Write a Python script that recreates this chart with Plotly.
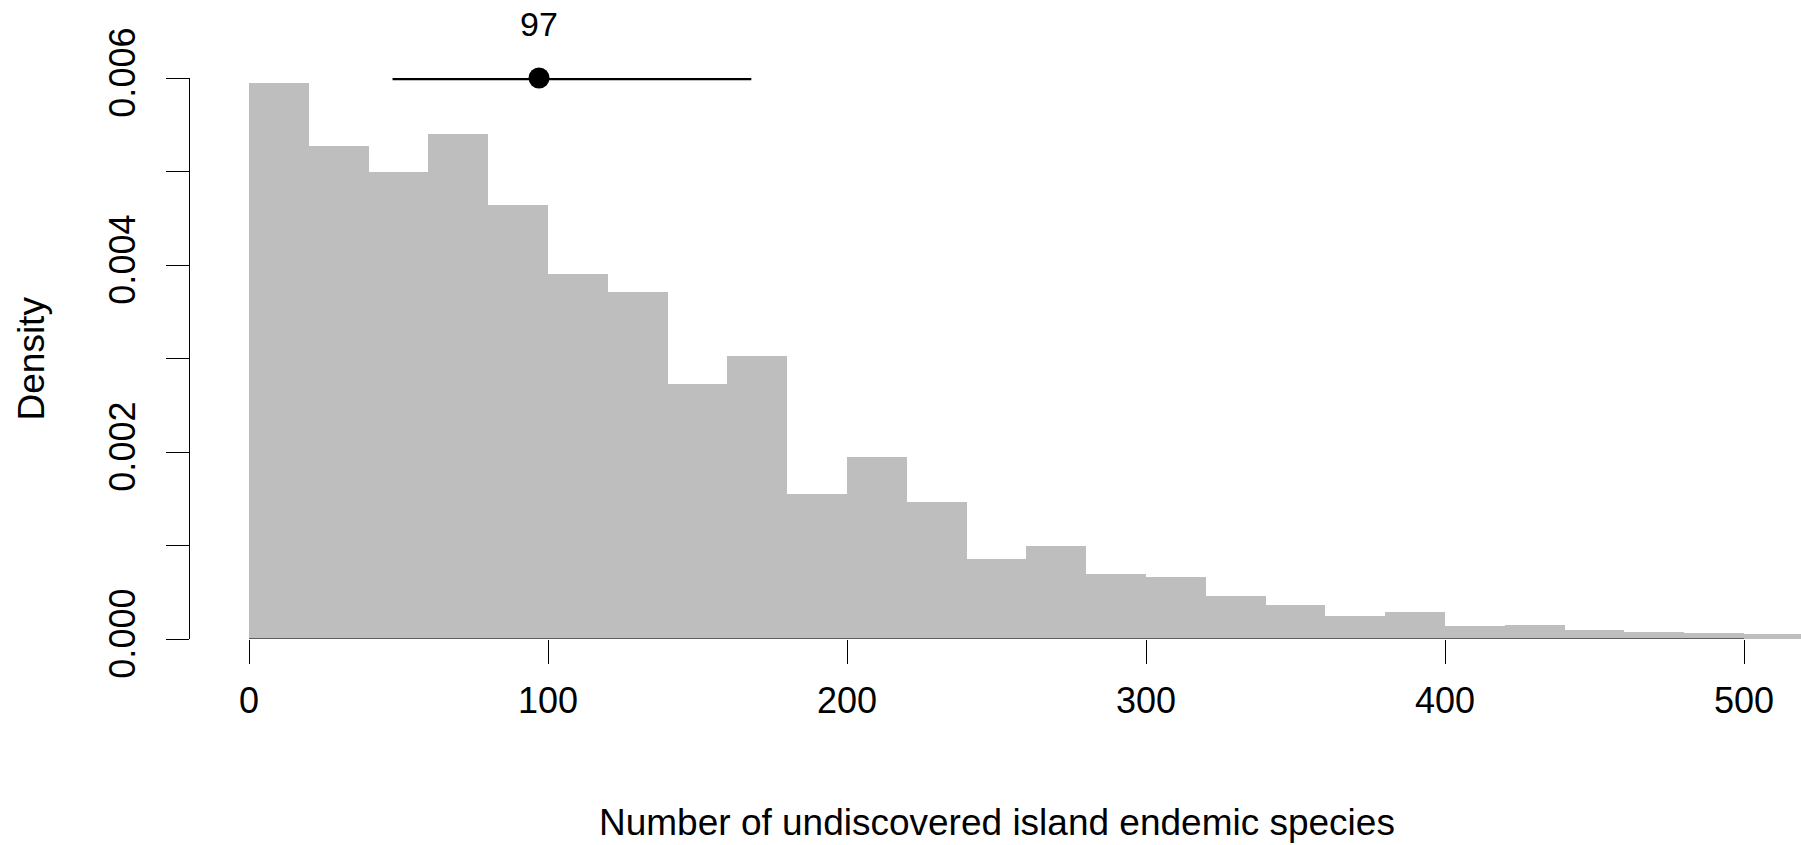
import plotly.graph_objects as go

# ---- data ----
bin_left = [0, 20, 40, 60, 80, 100, 120, 140, 160, 180, 200, 220, 240, 260, 280,
            300, 320, 340, 360, 380, 400, 420, 440, 460, 480, 500]
density = [0.00595, 0.00527, 0.00499, 0.00540, 0.00464, 0.00390, 0.00371, 0.00273,
           0.00303, 0.00155, 0.00195, 0.00146, 0.00086, 0.00100, 0.00070, 0.00066,
           0.00046, 0.00036, 0.00025, 0.00029, 0.00014, 0.00015, 0.00010, 0.00008,
           0.00006, 0.00005]
bin_width = 20

estimate = 97
ci_low, ci_high = 48, 168
ci_y = 0.006

x_ticks = [0, 100, 200, 300, 400, 500]
y_ticks = [0.000, 0.001, 0.002, 0.003, 0.004, 0.005, 0.006]
y_ticktext = ["0.000", "", "0.002", "", "0.004", "", "0.006"]

FONT = "Liberation Sans, Arial, sans-serif"
W, H = 1801, 845
L, R, T, B = 190, 0, 78, 206

fig = go.Figure()
fig.add_trace(go.Bar(
    x=[b + bin_width / 2 for b in bin_left], y=density, width=bin_width,
    marker=dict(color="#bebebe", line=dict(width=0)), showlegend=False,
    hoverinfo="skip"))

fig.add_trace(go.Scatter(
    x=[ci_low, ci_high], y=[ci_y, ci_y], mode="lines",
    line=dict(color="black", width=4.5), cliponaxis=False, showlegend=False))
fig.add_trace(go.Scatter(
    x=[estimate], y=[ci_y], mode="markers",
    marker=dict(color="black", size=21), cliponaxis=False, showlegend=False))

fig.add_annotation(x=estimate, y=ci_y, xref="x", yref="y", text=str(estimate),
                   showarrow=False, yanchor="middle", yshift=54,
                   font=dict(family=FONT, size=34, color="black"))

# x axis line spanning only the tick range (as in R)
fig.add_shape(type="line", xref="x", yref="y", x0=x_ticks[0], x1=x_ticks[-1],
              y0=0, y1=0, line=dict(color="black", width=1.2))

fig.add_annotation(xref="paper", yref="paper", x=(31 - L) / (W - L - R), y=0.5,
                   text="Density", textangle=-90, showarrow=False,
                   xanchor="center", yanchor="middle",
                   font=dict(family=FONT, size=37, color="black"))
fig.add_annotation(xref="paper", yref="paper", x=(996.5 - L) / (W - L - R),
                   y=-(822 - 639) / (H - T - B),
                   text="Number of undiscovered island endemic species",
                   showarrow=False, xanchor="center", yanchor="middle",
                   font=dict(family=FONT, size=37, color="black"))

x0_px = 249
px_per_unit = (1744 - 249) / 500
fig.update_layout(
    width=W, height=H, margin=dict(l=L, r=R, t=T, b=B, pad=0),
    paper_bgcolor="white", plot_bgcolor="white", bargap=0,
    font=dict(family=FONT, size=36, color="black"),
    xaxis=dict(range=[(L - x0_px) / px_per_unit, (W - R - x0_px) / px_per_unit],
               tickvals=x_ticks, ticks="outside", ticklen=24, tickwidth=1.2,
               tickcolor="black", showline=False, zeroline=False, showgrid=False,
               ticklabelstandoff=6,
               tickfont=dict(family=FONT, size=36, color="black")),
    yaxis=dict(range=[0, 0.006], tickvals=y_ticks, ticktext=y_ticktext,
               ticks="outside", ticklen=23, tickwidth=1.2, tickcolor="black",
               showline=True, linecolor="black", linewidth=1.2, zeroline=False,
               showgrid=False, tickangle=-90, ticklabelstandoff=17,
               tickfont=dict(family=FONT, size=36, color="black")),
)

fig.write_html("out.html")
